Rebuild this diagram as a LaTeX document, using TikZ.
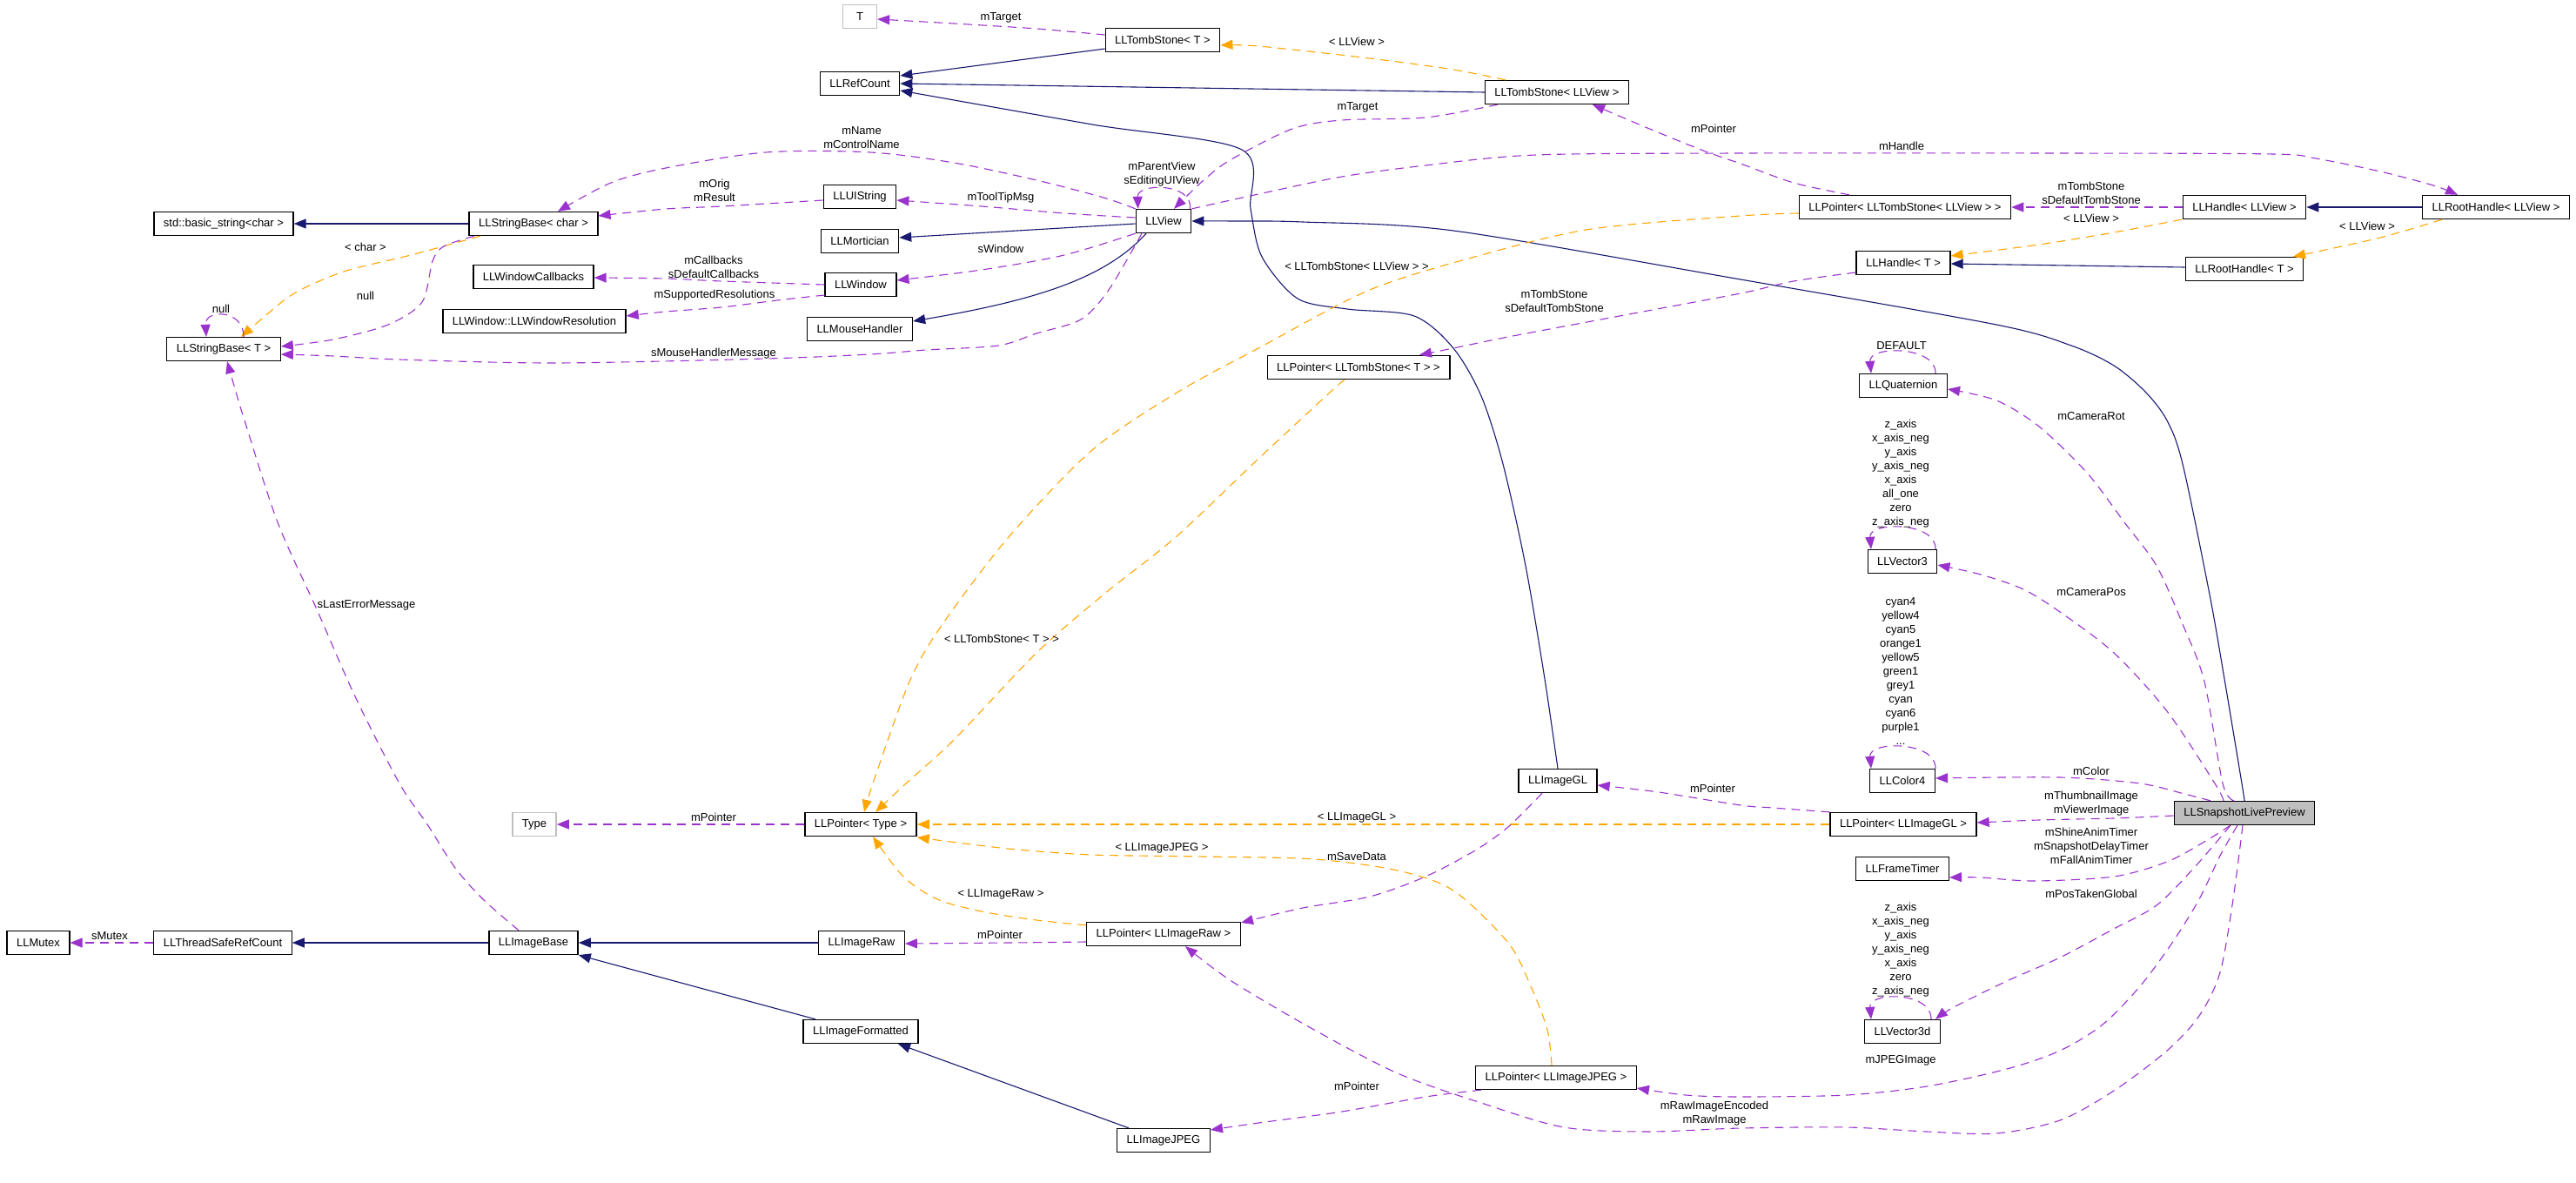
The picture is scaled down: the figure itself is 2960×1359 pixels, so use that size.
\documentclass[tikz,border=0pt]{standalone}
\usepackage{fontspec}
\setmainfont{Liberation Sans}
\usetikzlibrary{arrows.meta}
\definecolor{navy}{HTML}{191970}
\definecolor{usec}{HTML}{9A32CD}
\definecolor{tplc}{HTML}{FFA500}
\definecolor{grayb}{HTML}{BFBFBF}
\begin{document}
\begin{tikzpicture}[x=1pt,y=-1pt,
  every node/.style={font=\fontsize{13}{16}\selectfont},
  box/.style={draw=black, line width=1.3pt, minimum height=27pt, inner xsep=11pt, inner ysep=0pt},
  gbox/.style={box, draw=grayb},
  lbl/.style={inner sep=0pt, align=center},
  tip/.style={-{Triangle[length=14pt,width=11pt]}},
  inh/.style={tip, draw=navy, line width=1.1pt},
  use/.style={tip, draw=usec, line width=1.1pt, dash pattern=on 10pt off 7pt},
  tpl/.style={tip, draw=tplc, line width=1.1pt, dash pattern=on 10pt off 7pt}]
\fill[white] (0,0) rectangle (2960,1359);
\useasboundingbox (0,0) rectangle (2960,1359);

% nodes
\node[gbox, minimum width=39pt] (T) at (988,19) {T};
\node[box] (RefCount) at (988,96) {LLRefCount};
\node[box] (TombT) at (1336,46) {LLTombStone< T >};
\node[box] (TombView) at (1789,106) {LLTombStone< LLView >};
\node[box] (StrChar) at (613,257) {LLStringBase< char >};
\node[box] (BasicStr) at (257,257) {std::basic\_string<char >};
\node[box] (StrT) at (257,401) {LLStringBase< T >};
\node[box] (WinCb) at (613,318) {LLWindowCallbacks};
\node[box] (WinRes) at (614,369) {LLWindow::LLWindowResolution};
\node[box] (UIStr) at (988,226) {LLUIString};
\node[box] (Mort) at (988,277) {LLMortician};
\node[box] (Win) at (989,327) {LLWindow};
\node[box] (Mouse) at (988,378) {LLMouseHandler};
\node[box] (View) at (1337,254) {LLView};
\node[box] (PtrTombT) at (1561,422) {LLPointer< LLTombStone< T > >};
\node[box] (PtrTombView) at (2189,238) {LLPointer< LLTombStone< LLView > >};
\node[box] (HandleView) at (2579,238) {LLHandle< LLView >};
\node[box] (RootView) at (2868,238) {LLRootHandle< LLView >};
\node[box] (HandleT) at (2187,302) {LLHandle< T >};
\node[box] (RootT) at (2579,309) {LLRootHandle< T >};
\node[box] (Quat) at (2187,443) {LLQuaternion};
\node[box] (Vec3) at (2186,645) {LLVector3};
\node[box] (Col4) at (2186,897) {LLColor4};
\node[box, fill=grayb] (Snap) at (2579,934) {LLSnapshotLivePreview};
\node[box] (PtrGL) at (2187,947) {LLPointer< LLImageGL >};
\node[box] (Frame) at (2186,998) {LLFrameTimer};
\node[box] (Vec3d) at (2186,1185) {LLVector3d};
\node[box] (PtrType) at (989,947) {LLPointer< Type >};
\node[box] (ImageGL) at (1790,897) {LLImageGL};
\node[box] (PtrRaw) at (1337,1073) {LLPointer< LLImageRaw >};
\node[box] (ImageRaw) at (990,1083) {LLImageRaw};
\node[box] (ImageFmt) at (989,1185) {LLImageFormatted};
\node[box] (ImageJPEG) at (1337,1310) {LLImageJPEG};
\node[box] (PtrJPEG) at (1788,1238) {LLPointer< LLImageJPEG >};
\node[gbox] (Type) at (614,947) {Type};
\node[box] (Mutex) at (44,1083) {LLMutex};
\node[box] (TSRC) at (256,1083) {LLThreadSafeRefCount};
\node[box] (ImageBase) at (613,1083) {LLImageBase};

% inheritance
\draw[inh] ([yshift=-10pt]TombT.west) -- ([yshift=9pt]RefCount.east);
\draw[inh] (TombView.west) -- (RefCount.east);
\draw[inh] plot[smooth] coordinates {(ImageGL.north) (1775,780) (1753,650) (1727,533) (1702,455) (1670,400) (1625,363) (1548,355) (1491,343) (1450,295) (1437,240) (1427,172) (1255,143) ([yshift=-8pt]RefCount.east)};
\draw[inh] (StrChar.west) -- (BasicStr.east);
\draw[inh] ([yshift=-3pt]View.west) -- ([yshift=4pt]Mort.east);
\draw[inh] ([xshift=-20pt]View.south) .. controls (1270,320) and (1190,345) .. ([yshift=9pt]Mouse.east);
\draw[inh] plot[smooth] coordinates {(Snap.north) (2576,900) (2556,780) (2539,683) (2508,533) (2490,483) (2465,450) (2429,420) (2380,397) (2294,373) (2000,321) (1670,265) (1497,255) (1421,254) (View.east)};
\draw[inh] (RootView.west) -- (HandleView.east);
\draw[inh] ([yshift=2pt]RootT.west) -- ([yshift=-1pt]HandleT.east);
\draw[inh] (ImageBase.west) -- (TSRC.east);
\draw[inh] (ImageRaw.west) -- (ImageBase.east);
\draw[inh] ([xshift=-52pt]ImageFmt.north) -- (ImageBase.south east);
\draw[inh] ([xshift=-40pt]ImageJPEG.north) -- ([xshift=43pt]ImageFmt.south);

% template instances
\draw[tpl] plot[smooth] coordinates {([xshift=-59pt]TombView.north) (1670,80) (1574,67) (1446,53) ([yshift=-6pt]TombT.east)};
\draw[tpl] plot[smooth] coordinates {([xshift=-61pt]StrChar.south) (472,293) (395,312) (338,337) (300,367) ([xshift=20pt]StrT.north)};
\draw[tpl] plot[smooth] coordinates {([yshift=-7pt]PtrTombView.west) (2000,248) (1829,263) (1702,293) (1574,333) (1446,400) (1354,450) (1255,517) (1159,617) (1083,717) (1045,783) (1003,900) ([xshift=4pt]PtrType.north)};
\draw[tpl] plot[smooth] coordinates {([xshift=-16pt]PtrTombT.south) (1529,450) (1446,527) (1351,617) (1268,683) (1191,750) (1096,850) (1041,900) ([xshift=17pt]PtrType.north)};
\draw[tpl] plot[smooth] coordinates {([xshift=-72pt]HandleView.south) (2429,267) (2343,281) ([yshift=8pt]HandleT.east)};
\draw[tpl] plot[smooth] coordinates {([xshift=-62pt]RootView.south) (2735,273) ([xshift=56pt]RootT.north)};
\draw[tpl] (PtrGL.west) -- (PtrType.east);
\draw[tpl] plot[smooth] coordinates {([xshift=-5pt]PtrJPEG.north) (1778,1183) (1759,1133) (1733,1083) (1670,1023) (1606,1000) (1510,987) (1383,984) (1255,982) (1159,975) ([yshift=-15pt]PtrType.east)};
\draw[tpl] plot[smooth] coordinates {([yshift=-4pt]PtrRaw.north west) (1191,1057) (1128,1047) (1077,1033) (1038,1007) ([xshift=14pt]PtrType.south)};

% usage
\draw[use] plot[smooth] coordinates {([yshift=6pt]TombT.west) (1191,33) (1096,27) ([yshift=-3pt]T.east)};
\draw[use] plot[smooth] coordinates {([xshift=-68pt]TombView.south) (1638,135) (1542,138) (1485,148) (1415,183) (1383,207) ([xshift=12pt]View.north)};
\draw[use] plot[smooth] coordinates {(View.north west) (1268,227) (1191,207) (1096,187) (1000,175) (880,175) (765,193) (702,210) ([xshift=28pt]StrChar.north)};
\draw[use] plot[smooth] coordinates {([yshift=-4pt]UIStr.west) (829,237) (765,240) ([yshift=9pt]StrChar.east)};
\draw[use] ([xshift=-2pt]View.north east) .. controls ([xshift=2pt,yshift=30pt]View.north east) and ([xshift=2pt,yshift=30pt]View.north west) .. ([xshift=3pt]View.north west);
\draw[use] plot[smooth] coordinates {([yshift=4pt]View.west) (1223,245) (1128,237) ([yshift=-4pt]UIStr.east)};
\draw[use] plot[smooth] coordinates {(View.south west) (1223,293) (1128,310) ([yshift=5pt]Win.east)};
\draw[use] plot[smooth] coordinates {([xshift=-25pt]View.south) (1274,333) (1242,367) (1191,383) (1147,397) (1064,402) (1000,407) (880,412) (638,417) (459,413) (383,409) ([yshift=-6pt]StrT.east)};
\draw[use] plot[smooth] coordinates {(Win.west) (829,323) (765,320) ([yshift=-1pt]WinCb.east)};
\draw[use] plot[smooth] coordinates {([yshift=-12pt]Win.west) (893,345) (829,353) (765,358) ([yshift=6pt]WinRes.east)};
\draw[use] plot[smooth] coordinates {([xshift=-68pt]StrChar.south) (510,283) (497,300) (485,347) (446,373) (383,390) ([yshift=3pt]StrT.east)};
\draw[use] ([xshift=23pt]StrT.north) .. controls ([xshift=23pt,yshift=32pt]StrT.north) and ([xshift=-22pt,yshift=32pt]StrT.north) .. ([xshift=-20pt]StrT.north);
\draw[use] plot[smooth] coordinates {([xshift=-17pt]ImageBase.north) (555,1033) (523,997) (491,947) (459,900) (408,800) (364,700) (319,600) (281,483) (271,450) ([xshift=4pt]StrT.south)};
\draw[use] plot[smooth] coordinates {([xshift=-64pt]PtrTombView.north) (2061,210) (2000,188) (1957,173) (1893,147) ([xshift=41pt]TombView.south)};
\draw[use] plot[smooth] coordinates {(View.north east) (1446,223) (1542,203) (1638,190) (1765,178) (2000,176) (2367,176) (2612,177) (2661,182) (2735,197) (2796,213) ([xshift=-44pt]RootView.north)};
\draw[use] (HandleView.west) -- (PtrTombView.east);
\draw[use] plot[smooth] coordinates {([yshift=-11pt]HandleT.west) (2061,323) (2000,337) (1861,363) (1733,387) (1670,400) ([xshift=70pt]PtrTombT.north)};
\draw[use] ([xshift=37pt]Quat.north) .. controls ([xshift=38pt,yshift=32pt]Quat.north) and ([xshift=-40pt,yshift=32pt]Quat.north) .. ([xshift=-37pt]Quat.north);
\draw[use] plot[smooth] coordinates {([xshift=-12pt]Snap.north) (2554,900) (2533,783) (2508,717) (2478,650) (2441,600) (2398,543) (2343,490) (2294,460) ([yshift=-4pt]Quat.east)};
\draw[use] ([xshift=38pt]Vec3.north) .. controls ([xshift=39pt,yshift=32pt]Vec3.north) and ([xshift=-39pt,yshift=32pt]Vec3.north) .. ([xshift=-36pt]Vec3.north);
\draw[use] plot[smooth] coordinates {([xshift=-24pt]Snap.north) (2545,900) (2490,817) (2429,750) (2367,703) (2325,677) (2276,660) ([yshift=-4pt]Vec3.east)};
\draw[use] ([xshift=38pt]Col4.north) .. controls ([xshift=39pt,yshift=32pt]Col4.north) and ([xshift=-39pt,yshift=32pt]Col4.north) .. ([xshift=-36pt]Col4.north);
\draw[use] plot[smooth] coordinates {([xshift=-39pt]Snap.north) (2510,912) (2459,900) (2367,893) ([yshift=3pt]Col4.east)};
\draw[use] plot[smooth] coordinates {([yshift=-3pt]Snap.west) (2429,940) (2343,942) ([yshift=2pt]PtrGL.east)};
\draw[use] plot[smooth] coordinates {([xshift=-16pt]Snap.south) (2533,967) (2490,990) (2429,1007) (2337,1012) (2276,1008) ([yshift=-10pt]Frame.east)};
\draw[use] plot[smooth] coordinates {([xshift=-16pt]Snap.south) (2521,997) (2478,1040) (2429,1067) (2367,1100) (2306,1127) (2245,1157) ([xshift=38pt]Vec3d.north)};
\draw[use] ([xshift=33pt]Vec3d.north) .. controls ([xshift=34pt,yshift=32pt]Vec3d.north) and ([xshift=-39pt,yshift=32pt]Vec3d.north) .. ([xshift=-36pt]Vec3d.north);
\draw[use] plot[smooth] coordinates {([xshift=-8pt]Snap.south) (2551,983) (2527,1033) (2496,1083) (2459,1133) (2416,1177) (2367,1207) (2306,1228) (2214,1248) (2122,1258) (2000,1260) (1937,1258) ([yshift=-12pt]PtrJPEG.east)};
\draw[use] plot[smooth] coordinates {([xshift=-2pt]Snap.south) (2566,1033) (2551,1117) (2527,1167) (2490,1207) (2429,1253) (2367,1287) (2294,1302) (2214,1300) (2122,1295) (2000,1296) (1893,1300) (1797,1295) (1702,1267) (1606,1233) (1510,1183) (1415,1127) ([xshift=25pt]PtrRaw.south)};
\draw[use] plot[smooth] coordinates {(PtrGL.north west) (2037,928) (2000,925) (1906,910) ([yshift=-5pt]ImageGL.east)};
\draw[use] (PtrType.west) -- (Type.east);
\draw[use] (TSRC.west) -- (Mutex.east);
\draw[use] plot[smooth] coordinates {([yshift=-9pt]PtrRaw.west) (1159,1083) ([yshift=-1pt]ImageRaw.east)};
\draw[use] plot[smooth] coordinates {([xshift=-86pt]PtrJPEG.south) (1638,1260) (1542,1277) (1446,1290) ([yshift=12pt]ImageJPEG.east)};
\draw[use] plot[smooth] coordinates {([xshift=-18pt]ImageGL.south) (1733,950) (1695,977) (1638,1007) (1574,1030) (1497,1043) ([yshift=13pt]PtrRaw.east)};

% labels
\node[lbl] (l1) at (1150,20) {mTarget};
\node[lbl] (l2) at (1559,48) {< LLView >};
\node[lbl] (l3) at (1560,123) {mTarget};
\node[lbl] (l4) at (1969,148) {mPointer};
\node[lbl] (l5) at (990,158) {mName\\mControlName};
\node[lbl] (l6) at (821,219) {mOrig\\mResult};
\node[lbl] (l7) at (1335,200) {mParentView\\sEditingUIView};
\node[lbl] (l8) at (1150,227) {mToolTipMsg};
\node[lbl] (l9) at (1150,286) {sWindow};
\node[lbl] (l10) at (420,284) {< char >};
\node[lbl] (l11) at (420,340) {null};
\node[lbl] (l12) at (254,355) {null};
\node[lbl] (l13) at (820,307) {mCallbacks\\sDefaultCallbacks};
\node[lbl] (l14) at (821,339) {mSupportedResolutions};
\node[lbl] (l15) at (820,406) {sMouseHandlerMessage};
\node[lbl] (l16) at (1559,306) {< LLTombStone< LLView > >};
\node[lbl] (l17) at (1786,346) {mTombStone\\sDefaultTombStone};
\node[lbl] (l18) at (2185,168) {mHandle};
\node[lbl] (l19) at (2403,222) {mTombStone\\sDefaultTombStone};
\node[lbl] (l20) at (2403,251) {< LLView >};
\node[lbl] (l21) at (2720,260) {< LLView >};
\node[lbl] (l22) at (2185,397) {DEFAULT};
\node[lbl] (l23) at (2403,478) {mCameraRot};
\node[lbl] (l24) at (2184,544) {z\_axis\\x\_axis\_neg\\y\_axis\\y\_axis\_neg\\x\_axis\\all\_one\\zero\\z\_axis\_neg};
\node[lbl] (l25) at (2403,680) {mCameraPos};
\node[lbl] (l26) at (2184,771) {cyan4\\yellow4\\cyan5\\orange1\\yellow5\\green1\\grey1\\cyan\\cyan6\\purple1\\...};
\node[lbl] (l27) at (2403,886) {mColor};
\node[lbl] (l28) at (2403,923) {mThumbnailImage\\mViewerImage};
\node[lbl] (l29) at (2403,972) {mShineAnimTimer\\mSnapshotDelayTimer\\mFallAnimTimer};
\node[lbl] (l30) at (2403,1027) {mPosTakenGlobal};
\node[lbl] (l31) at (2184,1091) {z\_axis\\x\_axis\_neg\\y\_axis\\y\_axis\_neg\\x\_axis\\zero\\z\_axis\_neg};
\node[lbl] (l32) at (2184,1218) {mJPEGImage};
\node[lbl] (l33) at (1970,1279) {mRawImageEncoded\\mRawImage};
\node[lbl] (l34) at (1968,906) {mPointer};
\node[lbl] (l35) at (1559,939) {< LLImageGL >};
\node[lbl] (l36) at (1335,974) {< LLImageJPEG >};
\node[lbl] (l37) at (1559,984) {mSaveData};
\node[lbl] (l38) at (1150,1027) {< LLImageRaw >};
\node[lbl] (l39) at (1149,1074) {mPointer};
\node[lbl] (l40) at (1559,1248) {mPointer};
\node[lbl] (l41) at (820,939) {mPointer};
\node[lbl] (l42) at (126,1075) {sMutex};
\node[lbl] (l43) at (421,695) {sLastErrorMessage};
\node[lbl] (l44) at (1151,734) {< LLTombStone< T > >};
\end{tikzpicture}
\end{document}
